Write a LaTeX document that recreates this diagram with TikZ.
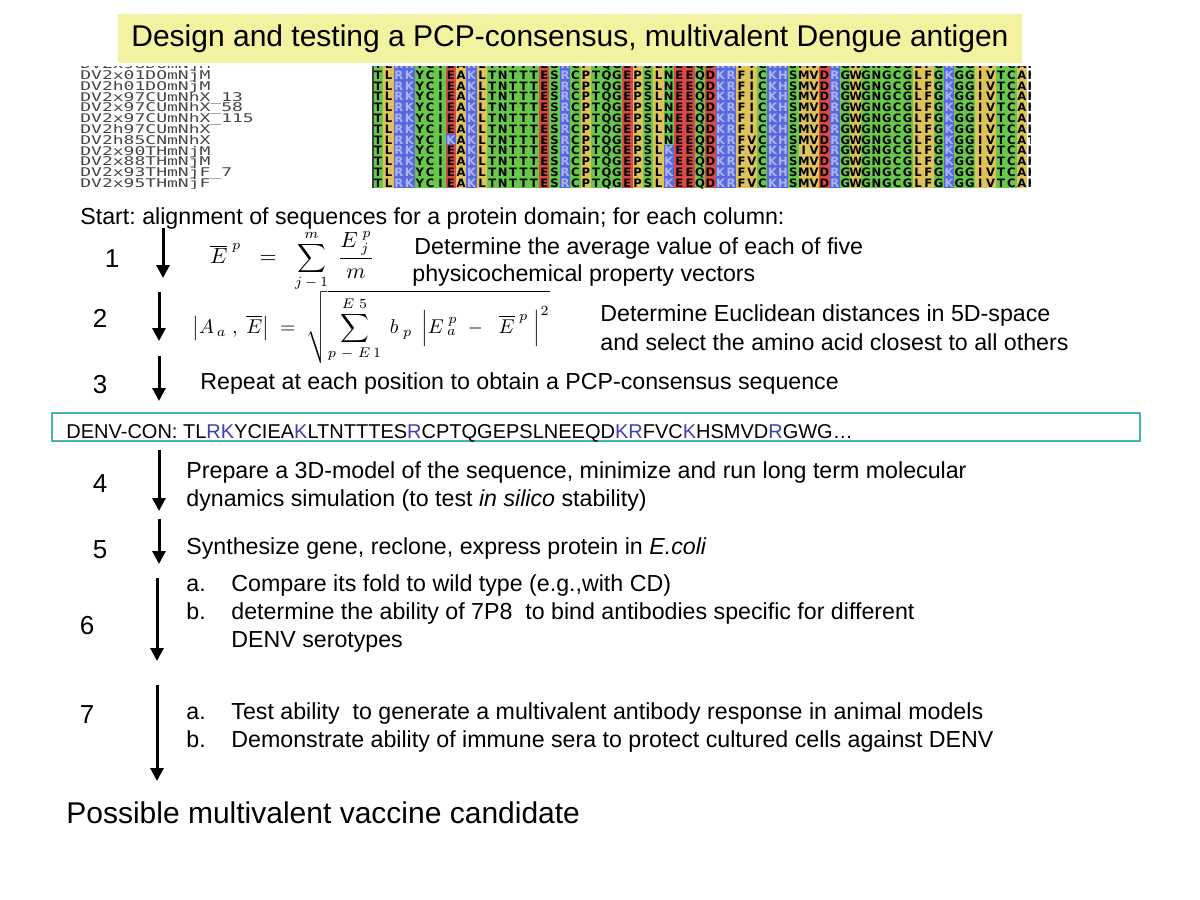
\documentclass[tikz,border=0pt]{standalone}
\usepackage{fontspec}
\setmainfont{Liberation Sans}
\newfontfamily\alfont{DejaVu Sans}
\newfontfamily\lblfont{DejaVu Sans Mono}
\usetikzlibrary{arrows.meta}
\frenchspacing
\definecolor{titley}{RGB}{242,242,160}
\definecolor{alg}{RGB}{104,200,76}
\definecolor{aly}{RGB}{222,194,90}
\definecolor{alb}{RGB}{88,104,222}
\definecolor{alr}{RGB}{220,72,72}
\definecolor{alw}{RGB}{255,255,255}
\definecolor{alblt}{RGB}{175,180,240}
\definecolor{conteal}{RGB}{70,178,178}
\definecolor{conblue}{RGB}{64,64,176}
\definecolor{lblgray}{RGB}{70,70,70}
\newcommand\alseq{T/g,L/y,R/b,K/b,Y/g,C/g,I/g,E/r,A/y,K/b,L/y,T/g,N/g,T/g,T/g,T/g,E/r,S/g,R/b,C/g,P/y,T/g,Q/g,G/g,E/r,P/y,S/g,L/y,N/g,E/r,E/r,Q/g,D/r,K/b,R/b,F/y,I/y,C/g,K/b,H/b,S/g,M/y,V/y,D/r,R/b,G/g,W/y,G/g,N/g,G/g,C/g,G/g,L/y,F/y,G/g,K/b,G/g,G/g,I/y,V/y,T/g,C/g,A/y,K/w}
\newcommand\alcell[4]{%
  \fill[al#4] ({373+(#2-1)*10.38},{69.6+#1*10.8}) rectangle ++(10.38,10.8);
  \node[alet,lt#4] (v#1-#2) at ({373+(#2-0.5)*10.38},{75+#1*10.8}) {#3};}
\begin{document}
\begin{tikzpicture}[x=0.5pt,y=-0.5pt,
  alet/.style={inner sep=0pt,text height=4.2pt,text depth=0pt,font=\alfont\bfseries\fontsize{5.8}{5.8}\selectfont},
  ltg/.style={text=black}, lty/.style={text=black}, ltr/.style={text=black},
  ltw/.style={text=black}, ltb/.style={text=alblt},
  lbl/.style={anchor=west,inner sep=0pt,text height=4.4pt,text depth=0pt,text=lblgray,font=\lblfont\fontsize{6}{6}\selectfont},
  txt/.style={anchor=base west,inner sep=0pt,font=\fontsize{11.6}{14}\selectfont},
  num/.style={anchor=base,inner sep=0pt,font=\fontsize{13}{15}\selectfont},
  big/.style={anchor=base west,inner sep=0pt,font=\fontsize{15}{18}\selectfont},
  flow/.style={line width=1.5pt,-{Triangle[width=6.5pt,length=6.5pt]}},
  titlebox/.style={fill=titley,minimum width=452pt,minimum height=24.5pt,inner sep=0pt,font=\fontsize{15}{18}\selectfont},
  conbox/.style={draw=conteal,line width=0.8pt,minimum width=544pt,minimum height=14pt,inner sep=0pt}]
\useasboundingbox (0,0) rectangle (1200,900);
\fill[white] (0,0) rectangle (1200,900);
% title
\node[titlebox] (title) at (570,38.5) {Design and testing a PCP-consensus, multivalent Dengue antigen};
% alignment
\begin{scope}
\clip (372,66) rectangle (1030,188);
\foreach \k in {-1,...,10}{
  \foreach \lett/\kind [count=\i] in \alseq {
    \fill[al\kind] ({373+(\i-1)*10.38},{69.6+\k*10.8}) rectangle ++(10.38,10.8);
    \node[alet,lt\kind] (c\k-\i) at ({373+(\i-0.5)*10.38},{75+\k*10.8}) {\lett};
  }
}
\alcell{6}{8}{K}{b}
\foreach \k in {6,...,10}{\alcell{\k}{37}{V}{y}}
\alcell{7}{42}{I}{y}
\foreach \k in {7,...,10}{\alcell{\k}{29}{K}{b}}
\alcell{6}{64}{T}{w}
\draw[black!75,line width=0.7pt] (373,66) -- (373,188);
\end{scope}
\begin{scope}
\clip (70,66) rectangle (370,188);
\foreach \lab [count=\j from -1] in {DV2x98DOmNjM,DV2x01DOmNjM,DV2h01DOmNjM,DV2x97CUmNhX\_13,DV2x97CUmNhX\_58,DV2x97CUmNhX\_115,DV2h97CUmNhX,DV2h85CNmNhX,DV2x90THmNjM,DV2x88THmNjM,DV2x93THmNjF\_7,DV2x95THmNjF}
  \node[lbl] (l\j) at (80,{75+\j*10.8}) {\scalebox{1.5}[1]{\lab}};
\end{scope}
% start line
\node[txt] (start) at (80,224) {Start: alignment of sequences for a protein domain; for each column:};
% step 1
\node[num] (n1) at (112,267) {1};
\coordinate (a1s) at (163,228); \coordinate (a1e) at (163,278);
\draw[flow] (a1s) -- (a1e);
\node[inner sep=0pt,font=\fontsize{10.6}{12}\selectfont] (f1) at (292,261)
  {$\displaystyle\overline{E}^{\;p} \;\;=\;\; \sum\limits_{j\,-\,1}^{m}\; \frac{E_{\;j}^{\;p}}{m}$};
\node[txt] (t1a) at (414,254) {Determine the average value of each of five};
\node[txt] (t1b) at (412,281) {physicochemical property vectors};
% step 2
\node[num] (n2) at (100,327) {2};
\coordinate (a2s) at (159,292); \coordinate (a2e) at (159,341);
\draw[flow] (a2s) -- (a2e);
\node[inner sep=0pt,font=\fontsize{10.4}{12}\selectfont] (f2) at (371,327)
  {$\displaystyle\left|A_{\,a}\;,\;\overline{E}\right| \;=\; \sqrt{\sum\limits_{p\;-\;E\,1}^{E\;5}\; b_{\;p}\;\left|E_{\;a}^{\;p}\;-\;\;\overline{E}^{\;p}\;\right|^{2}}$};
\node[txt] (t2a) at (600,321) {Determine Euclidean distances in 5D-space};
\node[txt] (t2b) at (600,350) {and select the amino acid closest to all others};
% step 3
\node[num] (n3) at (100,393) {3};
\coordinate (a3s) at (159,356); \coordinate (a3e) at (159,401);
\draw[flow] (a3s) -- (a3e);
\node[txt] (t3) at (200,389) {Repeat at each position to obtain a PCP-consensus sequence};
% consensus box
\node[conbox] (con) at (596,427) {};
\node[anchor=base west,inner sep=0pt,font=\fontsize{10}{12}\selectfont] (contxt) at (66,438)
  {DENV-CON: TL\textcolor{conblue}{RK}YCIEA\textcolor{conblue}{K}LTNTTTES\textcolor{conblue}{R}CPTQGEPSLNEEQD\textcolor{conblue}{KR}FVC\textcolor{conblue}{K}HSMVD\textcolor{conblue}{R}GWG\dots};
% step 4
\node[num] (n4) at (100,492) {4};
\coordinate (a4s) at (159,450); \coordinate (a4e) at (159,511);
\draw[flow] (a4s) -- (a4e);
\node[txt] (t4a) at (186,478) {Prepare a 3D-model of the sequence, minimize and run long term molecular};
\node[txt] (t4b) at (186,506) {dynamics simulation (to test \textit{in silico} stability)};
% step 5
\node[num] (n5) at (100,558) {5};
\coordinate (a5s) at (159,519); \coordinate (a5e) at (159,564);
\draw[flow] (a5s) -- (a5e);
\node[txt] (t5) at (186,554) {Synthesize gene, reclone, express protein in \textit{E.coli}};
% step 6
\node[num] (n6) at (87,634) {6};
\coordinate (a6s) at (157,578); \coordinate (a6e) at (157,661);
\draw[flow] (a6s) -- (a6e);
\node[txt] (t6al) at (186,591) {a.};
\node[txt] (t6a) at (231,591) {Compare its fold to wild type (e.g.,with CD)};
\node[txt] (t6bl) at (186,619) {b.};
\node[txt] (t6b) at (231,619) {determine the ability of 7P8\ \ to bind antibodies specific for different};
\node[txt] (t6c) at (231,647) {DENV serotypes};
% step 7
\node[num] (n7) at (87,723) {7};
\coordinate (a7s) at (157,685); \coordinate (a7e) at (157,781);
\draw[flow] (a7s) -- (a7e);
\node[txt] (t7al) at (186,719) {a.};
\node[txt] (t7a) at (231,719) {Test ability\ \ to generate a multivalent antibody response in animal models};
\node[txt] (t7bl) at (186,747) {b.};
\node[txt] (t7b) at (231,747) {Demonstrate ability of immune sera to protect cultured cells against DENV};
% final
\node[big] (final) at (66,823) {Possible multivalent vaccine candidate};
\end{tikzpicture}
\end{document}
